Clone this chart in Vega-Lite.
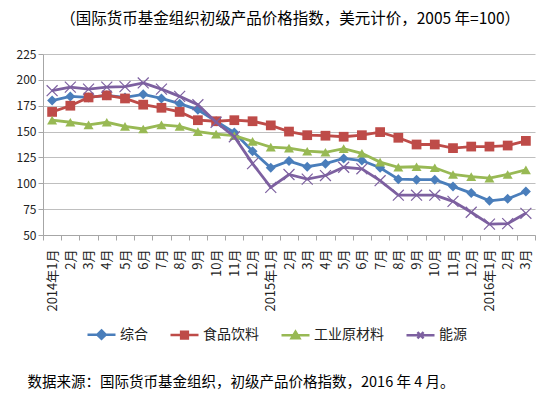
{
  "$schema": "https://vega.github.io/schema/vega-lite/v6.json",
  "width": 492,
  "height": 181,
  "autosize": {"type": "none"},
  "padding": {"left": 43, "top": 54, "right": 21, "bottom": 163},
  "background": "white",
  "config": {
    "view": {"stroke": null},
    "font": "Noto Sans CJK SC"
  },
  "title": {
    "text": "（国际货币基金组织初级产品价格指数，美元计价，2005 年=100）",
    "anchor": "end",
    "frame": "group",
    "dx": -15,
    "offset": 14,
    "baseline": "middle",
    "fontSize": 15.5,
    "fontWeight": "normal",
    "color": "#000000",
    "font": "Noto Sans CJK SC"
  },
  "data": {
    "values": [
      {"month": "2014年1月", "series": "综合", "value": 180},
      {"month": "2014年2月", "series": "综合", "value": 184},
      {"month": "2014年3月", "series": "综合", "value": 183},
      {"month": "2014年4月", "series": "综合", "value": 185},
      {"month": "2014年5月", "series": "综合", "value": 183},
      {"month": "2014年6月", "series": "综合", "value": 186},
      {"month": "2014年7月", "series": "综合", "value": 182},
      {"month": "2014年8月", "series": "综合", "value": 177},
      {"month": "2014年9月", "series": "综合", "value": 171},
      {"month": "2014年10月", "series": "综合", "value": 160},
      {"month": "2014年11月", "series": "综合", "value": 149},
      {"month": "2014年12月", "series": "综合", "value": 131},
      {"month": "2015年1月", "series": "综合", "value": 115},
      {"month": "2015年2月", "series": "综合", "value": 121.5},
      {"month": "2015年3月", "series": "综合", "value": 116},
      {"month": "2015年4月", "series": "综合", "value": 119},
      {"month": "2015年5月", "series": "综合", "value": 124},
      {"month": "2015年6月", "series": "综合", "value": 122},
      {"month": "2015年7月", "series": "综合", "value": 115},
      {"month": "2015年8月", "series": "综合", "value": 104},
      {"month": "2015年9月", "series": "综合", "value": 103.5},
      {"month": "2015年10月", "series": "综合", "value": 103.5},
      {"month": "2015年11月", "series": "综合", "value": 97},
      {"month": "2015年12月", "series": "综合", "value": 90.5},
      {"month": "2016年1月", "series": "综合", "value": 83},
      {"month": "2016年2月", "series": "综合", "value": 85},
      {"month": "2016年3月", "series": "综合", "value": 92},
      {"month": "2014年1月", "series": "食品饮料", "value": 169},
      {"month": "2014年2月", "series": "食品饮料", "value": 175},
      {"month": "2014年3月", "series": "食品饮料", "value": 183},
      {"month": "2014年4月", "series": "食品饮料", "value": 185},
      {"month": "2014年5月", "series": "食品饮料", "value": 182},
      {"month": "2014年6月", "series": "食品饮料", "value": 176},
      {"month": "2014年7月", "series": "食品饮料", "value": 173},
      {"month": "2014年8月", "series": "食品饮料", "value": 169},
      {"month": "2014年9月", "series": "食品饮料", "value": 161},
      {"month": "2014年10月", "series": "食品饮料", "value": 160},
      {"month": "2014年11月", "series": "食品饮料", "value": 161},
      {"month": "2014年12月", "series": "食品饮料", "value": 160},
      {"month": "2015年1月", "series": "食品饮料", "value": 156},
      {"month": "2015年2月", "series": "食品饮料", "value": 150},
      {"month": "2015年3月", "series": "食品饮料", "value": 146.5},
      {"month": "2015年4月", "series": "食品饮料", "value": 146},
      {"month": "2015年5月", "series": "食品饮料", "value": 145},
      {"month": "2015年6月", "series": "食品饮料", "value": 146.5},
      {"month": "2015年7月", "series": "食品饮料", "value": 149.5},
      {"month": "2015年8月", "series": "食品饮料", "value": 144},
      {"month": "2015年9月", "series": "食品饮料", "value": 137.5},
      {"month": "2015年10月", "series": "食品饮料", "value": 137.5},
      {"month": "2015年11月", "series": "食品饮料", "value": 134},
      {"month": "2015年12月", "series": "食品饮料", "value": 135.5},
      {"month": "2016年1月", "series": "食品饮料", "value": 135.5},
      {"month": "2016年2月", "series": "食品饮料", "value": 136.5},
      {"month": "2016年3月", "series": "食品饮料", "value": 141},
      {"month": "2014年1月", "series": "工业原材料", "value": 161},
      {"month": "2014年2月", "series": "工业原材料", "value": 159},
      {"month": "2014年3月", "series": "工业原材料", "value": 156.5},
      {"month": "2014年4月", "series": "工业原材料", "value": 159},
      {"month": "2014年5月", "series": "工业原材料", "value": 155},
      {"month": "2014年6月", "series": "工业原材料", "value": 152.5},
      {"month": "2014年7月", "series": "工业原材料", "value": 156.5},
      {"month": "2014年8月", "series": "工业原材料", "value": 155},
      {"month": "2014年9月", "series": "工业原材料", "value": 150},
      {"month": "2014年10月", "series": "工业原材料", "value": 147.5},
      {"month": "2014年11月", "series": "工业原材料", "value": 146},
      {"month": "2014年12月", "series": "工业原材料", "value": 140.5},
      {"month": "2015年1月", "series": "工业原材料", "value": 135},
      {"month": "2015年2月", "series": "工业原材料", "value": 134},
      {"month": "2015年3月", "series": "工业原材料", "value": 131},
      {"month": "2015年4月", "series": "工业原材料", "value": 130},
      {"month": "2015年5月", "series": "工业原材料", "value": 133.5},
      {"month": "2015年6月", "series": "工业原材料", "value": 129},
      {"month": "2015年7月", "series": "工业原材料", "value": 120.5},
      {"month": "2015年8月", "series": "工业原材料", "value": 115.5},
      {"month": "2015年9月", "series": "工业原材料", "value": 116},
      {"month": "2015年10月", "series": "工业原材料", "value": 115},
      {"month": "2015年11月", "series": "工业原材料", "value": 108.5},
      {"month": "2015年12月", "series": "工业原材料", "value": 106.5},
      {"month": "2016年1月", "series": "工业原材料", "value": 105},
      {"month": "2016年2月", "series": "工业原材料", "value": 108.5},
      {"month": "2016年3月", "series": "工业原材料", "value": 113},
      {"month": "2014年1月", "series": "能源", "value": 189.5},
      {"month": "2014年2月", "series": "能源", "value": 193},
      {"month": "2014年3月", "series": "能源", "value": 191},
      {"month": "2014年4月", "series": "能源", "value": 193},
      {"month": "2014年5月", "series": "能源", "value": 193.5},
      {"month": "2014年6月", "series": "能源", "value": 197},
      {"month": "2014年7月", "series": "能源", "value": 191},
      {"month": "2014年8月", "series": "能源", "value": 184},
      {"month": "2014年9月", "series": "能源", "value": 176},
      {"month": "2014年10月", "series": "能源", "value": 159},
      {"month": "2014年11月", "series": "能源", "value": 145},
      {"month": "2014年12月", "series": "能源", "value": 119},
      {"month": "2015年1月", "series": "能源", "value": 96},
      {"month": "2015年2月", "series": "能源", "value": 108.5},
      {"month": "2015年3月", "series": "能源", "value": 104},
      {"month": "2015年4月", "series": "能源", "value": 107.5},
      {"month": "2015年5月", "series": "能源", "value": 115.5},
      {"month": "2015年6月", "series": "能源", "value": 114},
      {"month": "2015年7月", "series": "能源", "value": 102.5},
      {"month": "2015年8月", "series": "能源", "value": 88.5},
      {"month": "2015年9月", "series": "能源", "value": 88.5},
      {"month": "2015年10月", "series": "能源", "value": 88.5},
      {"month": "2015年11月", "series": "能源", "value": 82.5},
      {"month": "2015年12月", "series": "能源", "value": 72},
      {"month": "2016年1月", "series": "能源", "value": 60.5},
      {"month": "2016年2月", "series": "能源", "value": 61},
      {"month": "2016年3月", "series": "能源", "value": 71}
    ]
  },
  "encoding": {
    "x": {
      "field": "month",
      "type": "ordinal",
      "sort": null,
      "scale": {"type": "band", "paddingInner": 0, "paddingOuter": 0},
      "axis": {
        "title": "数据来源：国际货币基金组织，初级产品价格指数，2016 年 4 月。",
        "titleX": -16,
        "titleY": 147,
        "titleAlign": "left",
        "titleAnchor": null,
        "titleBaseline": "middle",
        "titleFontSize": 14.5,
        "titleFontWeight": "normal",
        "titleColor": "#000000",
        "titleFont": "Noto Sans CJK SC",
        "labelExpr": "datum.value == null ? '' : (substring(datum.value, 5) == '1月' ? datum.value : substring(datum.value, 5))",
        "labelAngle": -90,
        "labelFontSize": 13,
        "labelColor": "#222222",
        "labelPadding": 9,
        "labelFont": "Noto Sans CJK SC",
        "tickBand": "extent",
        "ticks": true,
        "tickSize": 5,
        "tickColor": "#A6A6A6",
        "domainColor": "#A6A6A6",
        "grid": false
      }
    },
    "y": {
      "field": "value",
      "type": "quantitative",
      "scale": {"domain": [50, 225], "nice": false, "zero": false},
      "axis": {
        "title": null,
        "values": [50, 75, 100, 125, 150, 175, 200, 225],
        "labelFontSize": 12,
        "labelColor": "#222222",
        "labelPadding": 2,
        "tickSize": 5,
        "tickColor": "#A6A6A6",
        "domainColor": "#A6A6A6",
        "grid": true,
        "gridColor": "#BFBFBF",
        "gridWidth": 1
      }
    },
    "color": {
      "field": "series",
      "type": "nominal",
      "sort": null,
      "scale": {
        "domain": ["综合", "食品饮料", "工业原材料", "能源"],
        "range": ["#4A7EBB", "#BE4B48", "#98B954", "#7D60A0"]
      },
      "legend": {
        "title": null,
        "orient": "none",
        "direction": "horizontal",
        "legendX": 43,
        "legendY": 265,
        "symbolSize": 784,
        "labelFontSize": 14,
        "labelColor": "#222222",
        "labelFont": "Noto Sans CJK SC",
        "labelOffset": 3,
        "columnPadding": 17,
        "padding": 0,
        "encode": {
          "symbols": {
            "update": {
              "shape": {"signal": "datum.value === '综合' ? 'M-1,0H1M0,-0.3L0.3,0L0,0.3L-0.3,0Z' : datum.value === '食品饮料' ? 'M-1,0H1M-0.24,-0.24H0.24V0.24H-0.24Z' : datum.value === '工业原材料' ? 'M-1,0H1M0,-0.26L0.28,0.2H-0.28Z' : 'M-1,0H1M-0.22,-0.22L0.22,0.22M-0.22,0.22L0.22,-0.22'"},
              "fill": {"signal": "scale('color', datum.value)"},
              "stroke": {"signal": "scale('color', datum.value)"},
              "strokeWidth": {"value": 2.5},
              "size": {"value": 784},
              "opacity": {"value": 1}
            }
          }
        }
      }
    }
  },
  "layer": [
    {
      "transform": [{"filter": {"field": "series", "equal": "综合"}}],
      "layer": [
        {"mark": {"type": "line", "strokeWidth": 2.8}},
        {"mark": {"type": "point", "shape": "diamond", "filled": true, "opacity": 1, "size": 100}}
      ]
    },
    {
      "transform": [{"filter": {"field": "series", "equal": "食品饮料"}}],
      "layer": [
        {"mark": {"type": "line", "strokeWidth": 2.8}},
        {"mark": {"type": "point", "shape": "square", "filled": true, "opacity": 1, "size": 95}}
      ]
    },
    {
      "transform": [{"filter": {"field": "series", "equal": "工业原材料"}}],
      "layer": [
        {"mark": {"type": "line", "strokeWidth": 2.8}},
        {"mark": {"type": "point", "shape": "triangle-up", "filled": true, "opacity": 1, "size": 100}}
      ]
    },
    {
      "transform": [{"filter": {"field": "series", "equal": "能源"}}],
      "layer": [
        {"mark": {"type": "line", "strokeWidth": 2.8}},
        {"mark": {"type": "point", "shape": "M-1,-1L1,1M-1,1L1,-1", "filled": false, "opacity": 1, "size": 120, "strokeWidth": 1.2}}
      ]
    }
  ]
}
